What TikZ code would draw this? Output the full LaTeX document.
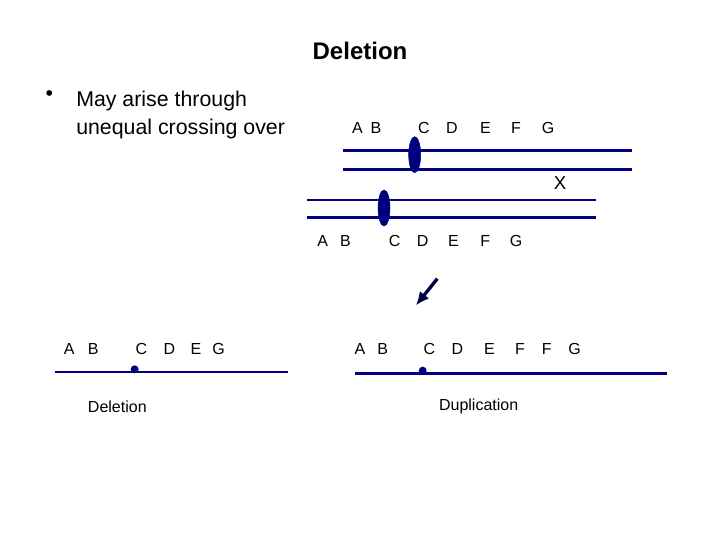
\documentclass[tikz,border=0pt]{standalone}
\usepackage{fontspec}
\setmainfont{Liberation Sans}
\usetikzlibrary{shapes.geometric,arrows.meta}
\definecolor{nv}{RGB}{0,0,128}
\begin{document}
\begin{tikzpicture}[x=1pt,y=-1pt,
  lbl/.style={font=\fontsize{12}{14}\selectfont},
  chr/.style={nv,line width=2.2pt},
  cen/.style={fill=nv,draw=nv,ellipse,minimum width=9pt,minimum height=27pt,inner sep=0pt},
  dotc/.style={circle,fill=nv,inner sep=0pt,minimum size=6pt}]
\useasboundingbox (0,0) rectangle (540,405);
\node[font=\bfseries\fontsize{18}{20}\selectfont] (title) at (270,38) {Deletion};
\node[font=\fontsize{16}{21}\selectfont,anchor=north west,inner sep=0pt] (bul) at (34,68) {•};
\node[font=\fontsize{16}{21}\selectfont,anchor=north west,align=left,inner sep=0pt] (btx) at (57,68) {May arise through\\unequal crossing over};
% top chromosome
\coordinate (t1a) at (257,113); \coordinate (t1b) at (474,113);
\coordinate (t2a) at (257,127); \coordinate (t2b) at (474,127);
\draw[chr] (t1a)--(t1b); \draw[chr] (t2a)--(t2b);
\node[cen] (c1) at (311,116) {};
\foreach \n/\x in {A/268,B/282,C/318,D/339,E/364,F/387,G/411}
  \node[lbl] (tl\n) at (\x,96) {\n};
\node[font=\fontsize{14}{16}\selectfont] (X) at (420,137) {X};
% bottom chromosome
\coordinate (b1a) at (230,150); \coordinate (b1b) at (447,150);
\coordinate (b2a) at (230,163); \coordinate (b2b) at (447,163);
\draw[chr] (b1a)--(b1b); \draw[chr] (b2a)--(b2b);
\node[cen] (c2) at (288,156) {};
\foreach \n/\x in {A/242,B/259,C/296,D/317,E/340,F/364,G/387}
  \node[lbl] (bl\n) at (\x,181) {\n};
% arrow
\coordinate (ar1) at (328,209); \coordinate (ar2) at (312,229);
\draw[nv!50!black,line width=2.5pt,-{Latex[length=10pt,width=9pt]}] (ar1)--(ar2);
% left product
\coordinate (l1) at (41,279); \coordinate (l2) at (216,279);
\draw[chr] (l1)--(l2);
\node[dotc] (ld) at (101,277) {};
\foreach \n/\x in {A/52,B/70,C/106,D/127,E/147,G/164}
  \node[lbl] (ll\n) at (\x,262) {\n};
\node[lbl] (del) at (88,305) {Deletion};
% right product
\coordinate (r1) at (266,280); \coordinate (r2) at (500,280);
\draw[chr] (r1)--(r2);
\node[dotc] (rd) at (317,278) {};
\foreach \n/\x in {A/270,B/287,C/322,D/343,E/367,F/390,G/431}
  \node[lbl] (rl\n) at (\x,262) {\n};
\node[lbl] (rlF2) at (410,262) {F};
\node[lbl] (dup) at (359,305) {Duplication};
\end{tikzpicture}
\end{document}
